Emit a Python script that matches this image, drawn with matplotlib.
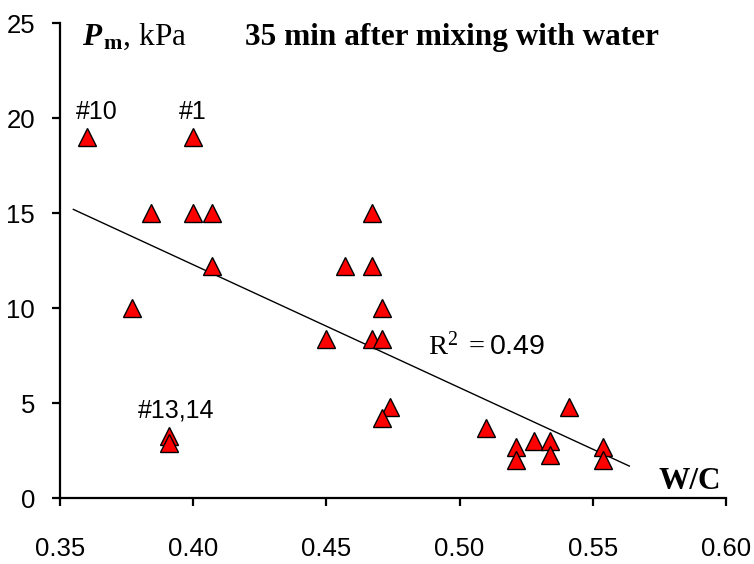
import matplotlib
matplotlib.use('Agg')
import matplotlib.pyplot as plt
import numpy as np

plt.rcParams['font.family'] = 'Liberation Sans'
plt.rcParams['mathtext.fontset'] = 'custom'
plt.rcParams['mathtext.rm'] = 'Liberation Serif'
plt.rcParams['mathtext.it'] = 'Liberation Serif:italic'
plt.rcParams['mathtext.bf'] = 'Liberation Serif:bold'
plt.rcParams['mathtext.bfit'] = 'Liberation Serif:italic:bold'

# W/C ratio and plastic strength Pm (kPa), 35 min after mixing
wc = [0.360, 0.400, 0.384, 0.400, 0.407, 0.467, 0.407, 0.457, 0.467,
      0.471, 0.377, 0.450, 0.467, 0.471, 0.474, 0.471, 0.391, 0.391,
      0.510, 0.521, 0.521, 0.528, 0.534, 0.534, 0.541, 0.554, 0.554]
pm = [19.0, 19.0, 15.0, 15.0, 15.0, 15.0, 12.2, 12.2, 12.2,
      10.0, 10.0, 8.4, 8.4, 8.4, 4.8, 4.2, 3.3, 2.9,
      3.7, 2.7, 2.0, 3.0, 3.0, 2.3, 4.8, 2.7, 2.0]

labels = ['#10', '#1', '#13,14']
label_x = [0.3638, 0.3999, 0.3935]
label_y = [20.3, 20.3, 4.6]

trend_range = [0.355, 0.5637]

x = np.array(wc)
y = np.array(pm)
k, b = np.polyfit(x, y, 1)

fig = plt.figure(figsize=(7.54, 5.64), dpi=100)
ax = fig.add_axes([0.0796, 0.1165, 0.8833, 0.8425])

xt = np.array(trend_range)
ax.plot(xt, k*xt + b, color='black', lw=1.0, zorder=2)
ax.plot(x, y, linestyle='none', marker='^', ms=13.5, mfc='#ff0000',
        mec='black', mew=1.0, zorder=3)

for t, lx, ly in zip(labels, label_x, label_y):
    ax.text(lx, ly, t, ha='center', va='center', fontsize=18)

ax.text(0.5526, 0.302, r'$\mathrm{R}^{2}\ =$' + '%.2f' % 0.49,
        transform=ax.transAxes, ha='left', va='baseline', fontsize=20.5)

ax.text(0.0326, 0.955, r'$\mathbfit{P}_{\,\mathbf{m}}$, kPa',
        transform=ax.transAxes, ha='left', va='baseline', fontsize=22.5,
        family='Liberation Serif')
ax.text(0.588, 0.955, '35 min after mixing with water',
        transform=ax.transAxes, ha='center', va='baseline', fontsize=22.5,
        fontweight='bold', family='Liberation Serif')
ax.text(0.945, 0.02, 'W/C', transform=ax.transAxes, ha='center',
        va='baseline', fontsize=22.5, fontweight='bold', family='Liberation Serif')

ax.set_xlim(0.35, 0.60)
ax.set_ylim(0, 25)
ax.set_xticks([0.35, 0.40, 0.45, 0.50, 0.55, 0.60])
ax.set_xticklabels(['0.35', '0.40', '0.45', '0.50', '0.55', '0.60'])
ax.set_yticks([0, 5, 10, 15, 20, 25])

for s in ['top', 'right']:
    ax.spines[s].set_visible(False)
for s in ['left', 'bottom']:
    ax.spines[s].set_linewidth(1.6)
ax.tick_params(axis='both', direction='out', length=6, width=1.6, labelsize=18.5)
ax.tick_params(axis='x', pad=22)
ax.tick_params(axis='y', pad=12)

plt.savefig('out.png', dpi=100)
